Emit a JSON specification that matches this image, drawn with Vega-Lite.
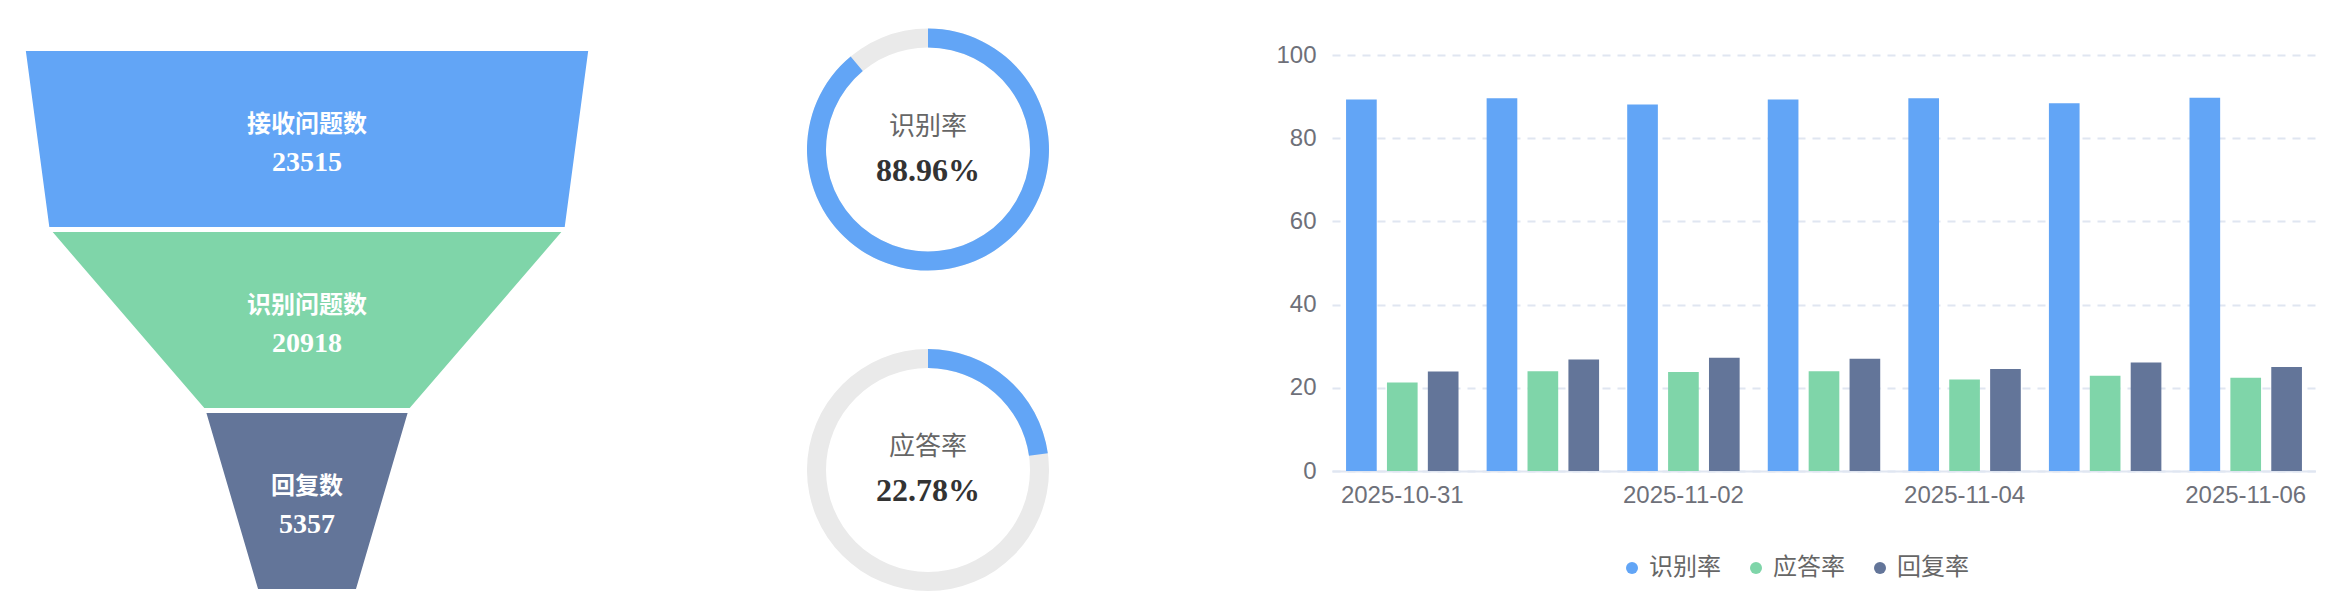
{
  "$schema": "https://vega.github.io/schema/vega-lite/v6.json",
  "padding": 0,
  "background": "white",
  "config": {"view": {"stroke": null}, "concat": {"spacing": 0}},
  "datasets": {
    "funnelEdges": [
      {"stage": "接收问题数", "pos": 0, "left": -50, "right": 50},
      {"stage": "接收问题数", "pos": 1, "left": -45.75, "right": 45.75},
      {"stage": "识别问题数", "pos": 1, "left": -45.75, "right": 45.75},
      {"stage": "识别问题数", "pos": 2, "left": -18.3, "right": 18.3},
      {"stage": "回复数", "pos": 2, "left": -18.3, "right": 18.3},
      {"stage": "回复数", "pos": 3, "left": -8.95, "right": 8.95}
    ],
    "funnel": [
      {"stage": "接收问题数", "value": 23515, "idx": 0},
      {"stage": "识别问题数", "value": 20918, "idx": 1},
      {"stage": "回复数", "value": 5357, "idx": 2}
    ],
    "rates": [
      {"name": "识别率", "rate": 0.8896},
      {"name": "应答率", "rate": 0.2278}
    ],
    "daily": [
      {"date": "2025-10-31", "metric": "识别率", "value": 89.3},
      {"date": "2025-10-31", "metric": "应答率", "value": 21.3},
      {"date": "2025-10-31", "metric": "回复率", "value": 23.9},
      {"date": "2025-11-01", "metric": "识别率", "value": 89.6},
      {"date": "2025-11-01", "metric": "应答率", "value": 24.0},
      {"date": "2025-11-01", "metric": "回复率", "value": 26.8},
      {"date": "2025-11-02", "metric": "识别率", "value": 88.1},
      {"date": "2025-11-02", "metric": "应答率", "value": 23.8},
      {"date": "2025-11-02", "metric": "回复率", "value": 27.2},
      {"date": "2025-11-03", "metric": "识别率", "value": 89.3},
      {"date": "2025-11-03", "metric": "应答率", "value": 24.0},
      {"date": "2025-11-03", "metric": "回复率", "value": 27.0},
      {"date": "2025-11-04", "metric": "识别率", "value": 89.6},
      {"date": "2025-11-04", "metric": "应答率", "value": 22.0},
      {"date": "2025-11-04", "metric": "回复率", "value": 24.5},
      {"date": "2025-11-05", "metric": "识别率", "value": 88.4},
      {"date": "2025-11-05", "metric": "应答率", "value": 22.9},
      {"date": "2025-11-05", "metric": "回复率", "value": 26.1},
      {"date": "2025-11-06", "metric": "识别率", "value": 89.7},
      {"date": "2025-11-06", "metric": "应答率", "value": 22.4},
      {"date": "2025-11-06", "metric": "回复率", "value": 25.0}
    ]
  },
  "bounds": "flush",
  "spacing": 0,
  "resolve": {"scale": {"color": "independent"}, "legend": {"color": "independent"}},
  "hconcat": [
    {
      "width": 524,
      "height": 602,
      "layer": [
        {
          "data": {"name": "funnelEdges"},
          "mark": {"type": "area", "orient": "horizontal", "stroke": "white", "strokeWidth": 5, "interpolate": "linear"},
          "encoding": {
            "y": {"field": "pos", "type": "quantitative", "scale": {"domain": [-0.268, 3.058], "reverse": true, "nice": false, "zero": false}, "axis": null},
            "x": {"field": "left", "type": "quantitative", "scale": {"domain": [-54.05, 38.2], "nice": false, "zero": false}, "axis": null},
            "x2": {"field": "right"},
            "color": {"field": "stage", "type": "nominal", "scale": {"domain": ["接收问题数", "识别问题数", "回复数"], "range": ["#62A5F6", "#7FD5A9", "#637599"]}, "legend": null}
          }
        },
        {
          "data": {"name": "funnel"},
          "mark": {"type": "text", "dy": 76, "baseline": "middle", "align": "center", "fontSize": 24, "fontWeight": "bold", "font": "Noto Sans CJK SC", "color": "white"},
          "encoding": {
            "x": {"datum": 0, "type": "quantitative"},
            "y": {"field": "idx", "type": "quantitative"},
            "text": {"field": "stage", "type": "nominal"}
          }
        },
        {
          "data": {"name": "funnel"},
          "mark": {"type": "text", "dy": 114, "baseline": "middle", "align": "center", "fontSize": 28, "fontWeight": "bold", "font": "Liberation Serif", "color": "white"},
          "encoding": {
            "x": {"datum": 0, "type": "quantitative"},
            "y": {"field": "idx", "type": "quantitative"},
            "text": {"field": "value", "type": "quantitative", "format": "d"}
          }
        }
      ]
    },
    {
      "width": 808,
      "height": 602,
      "data": {"name": "rates"},
      "encoding": {
        "y": {"field": "name", "type": "nominal", "scale": {"type": "point", "domain": ["识别率", "应答率"], "padding": 0.43915, "align": 0.5311}, "axis": null}
      },
      "layer": [
        {"mark": {"type": "arc", "innerRadius": 102, "outerRadius": 121, "theta": 0, "theta2": 6.2832, "color": "#EAEAEA"}},
        {
          "mark": {"type": "arc", "innerRadius": 102, "outerRadius": 121, "color": "#62A5F6"},
          "encoding": {
            "theta": {"field": "rate", "type": "quantitative", "scale": {"domain": [0, 1], "range": [0, 6.2832]}},
            "theta2": {"datum": 0}
          }
        },
        {
          "mark": {"type": "text", "dy": -23, "baseline": "middle", "align": "center", "fontSize": 26, "font": "Noto Sans CJK SC", "color": "#666666"},
          "encoding": {"text": {"field": "name", "type": "nominal"}}
        },
        {
          "mark": {"type": "text", "dy": 21, "baseline": "middle", "align": "center", "fontSize": 32, "fontWeight": "bold", "font": "Liberation Serif", "color": "#333333"},
          "encoding": {"text": {"field": "rate", "type": "quantitative", "format": ".2%"}}
        }
      ]
    },
    {
      "bounds": "flush",
      "spacing": 0,
      "resolve": {"scale": {"color": "independent"}, "legend": {"color": "independent"}},
      "vconcat": [
        {"width": 984, "height": 55, "data": {"values": []}, "mark": "point"},
        {
          "width": 984,
          "height": 416,
          "data": {"name": "daily"},
          "mark": {"type": "bar"},
          "encoding": {
            "x": {
              "field": "date", "type": "nominal",
              "scale": {"paddingInner": 0.2, "paddingOuter": 0.1},
              "axis": {"title": null, "values": ["2025-10-31", "2025-11-02", "2025-11-04", "2025-11-06"], "labelAngle": 0, "ticks": false, "domainColor": "#E0E6F1", "domainWidth": 2, "labelFontSize": 24, "labelFont": "Liberation Sans", "labelColor": "#6E7079", "labelPadding": 12}
            },
            "xOffset": {"field": "metric", "type": "nominal", "scale": {"domain": ["识别率", "应答率", "回复率"], "paddingInner": 0.25, "paddingOuter": 0}},
            "y": {
              "field": "value", "type": "quantitative",
              "scale": {"domain": [0, 100], "nice": false},
              "axis": {"title": null, "values": [0, 20, 40, 60, 80, 100], "ticks": false, "domain": false, "gridColor": "#E0E6F1", "gridDash": [8, 7], "gridWidth": 2, "labelFontSize": 24, "labelFont": "Liberation Sans", "labelColor": "#6E7079", "labelPadding": 16}
            },
            "color": {
              "field": "metric", "type": "nominal",
              "scale": {"domain": ["识别率", "应答率", "回复率"], "range": ["#62A5F6", "#7FD5A9", "#637599"]},
              "legend": {"orient": "none", "legendX": 288, "legendY": 501, "direction": "horizontal", "title": null, "symbolType": "circle", "symbolSize": 144, "symbolStrokeWidth": 0, "labelFontSize": 24, "labelFont": "Noto Sans CJK SC", "labelColor": "#666666", "labelOffset": 5, "columnPadding": 23}
            }
          }
        }
      ]
    }
  ]
}
